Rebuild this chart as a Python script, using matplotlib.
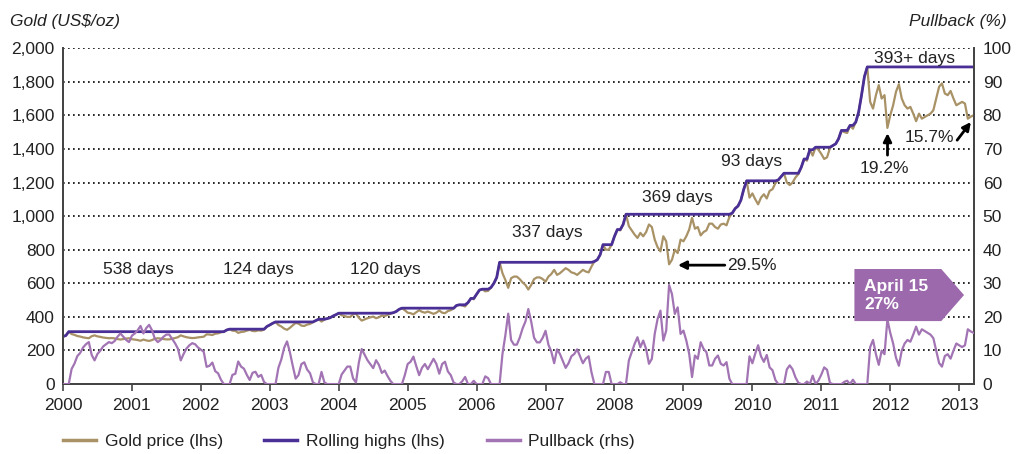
import matplotlib
matplotlib.use('Agg')
import matplotlib.pyplot as plt
from matplotlib.ticker import FuncFormatter
from matplotlib.lines import Line2D
import numpy as np

plt.rcParams['font.family'] = ['Liberation Sans', 'DejaVu Sans']

# gold price, US$/oz, two readings per month (1st and 2nd half), Jan 2000 - Mar 2013
gold_2000 = [283, 289, 312, 298, 293, 286, 283, 278, 275, 273, 285, 290,
             284, 281, 277, 275, 273, 274, 272, 268, 265, 268, 271, 273]
gold_2001 = [267, 265, 262, 258, 265, 260, 257, 262, 270, 273, 271, 268,
             266, 266, 270, 274, 279, 290, 284, 279, 276, 274, 275, 278]
gold_2002 = [280, 282, 296, 295, 292, 300, 302, 308, 312, 322, 327, 318,
             317, 305, 310, 312, 318, 323, 316, 315, 320, 318, 325, 343]
gold_2003 = [352, 362, 370, 352, 343, 330, 323, 335, 350, 364, 360, 348,
             346, 354, 358, 368, 378, 386, 372, 384, 390, 395, 405, 413]
gold_2004 = [422, 410, 405, 400, 400, 415, 420, 395, 378, 385, 392, 397,
             402, 392, 398, 408, 405, 412, 418, 425, 432, 445, 452, 440]
gold_2005 = [425, 422, 415, 428, 440, 430, 425, 432, 425, 418, 425, 438,
             425, 422, 435, 440, 450, 468, 472, 468, 462, 485, 510, 505]
gold_2006 = [535, 560, 565, 552, 555, 575, 600, 635, 725, 660, 620, 573,
             630, 640, 640, 625, 605, 590, 563, 590, 625, 635, 635, 625]
gold_2007 = [610, 640, 655, 680, 650, 660, 675, 690, 680, 665, 660, 650,
             665, 680, 670, 665, 700, 730, 740, 770, 830, 800, 800, 830]
gold_2008 = [880, 920, 915, 950, 1011, 940, 915, 890, 870, 900, 880, 905,
             950, 935, 860, 815, 790, 880, 850, 713, 740, 800, 780, 860]
gold_2009 = [850, 880, 920, 990, 925, 935, 885, 905, 915, 955, 955, 935,
             925, 950, 955, 945, 995, 1018, 1045, 1060, 1095, 1160, 1210, 1110]
gold_2010 = [1135, 1100, 1070, 1110, 1130, 1105, 1150, 1160, 1195, 1215, 1235, 1255,
             1200, 1185, 1200, 1230, 1250, 1290, 1340, 1330, 1395, 1360, 1410, 1395]
gold_2011 = [1370, 1340, 1350, 1405, 1420, 1430, 1460, 1510, 1500, 1495, 1540, 1520,
             1560, 1620, 1720, 1830, 1888, 1680, 1640, 1720, 1780, 1700, 1720, 1525]
gold_2012 = [1600, 1660, 1740, 1785, 1700, 1660, 1640, 1650, 1610, 1565, 1610, 1580,
             1590, 1600, 1610, 1630, 1700, 1770, 1790, 1730, 1720, 1745, 1700, 1660]
gold_2013 = [1670, 1680, 1670, 1580, 1592, 1600]

years = list(range(2000, 2014))
streak_labels = ['538 days', '124 days', '120 days', '337 days', '369 days', '93 days', '393+ days']
streak_x = [2001.09, 2002.84, 2004.68, 2007.03, 2008.91, 2009.99, 2012.35]
streak_y = [680, 680, 680, 900, 1113, 1327, 1940]

gold = np.array(gold_2000 + gold_2001 + gold_2002 + gold_2003 + gold_2004 + gold_2005 +
                gold_2006 + gold_2007 + gold_2008 + gold_2009 + gold_2010 + gold_2011 +
                gold_2012 + gold_2013, dtype=float)
t = 2000 + np.arange(len(gold)) / 24.0
highs = np.maximum.accumulate(gold)
pullback = (highs - gold) / highs * 100

c_gold = '#A89266'
c_high = '#4A2F96'
c_pull = '#A274B4'
c_box = '#9C6AAC'

fig = plt.figure(figsize=(10.19, 4.54), dpi=100)
ax = fig.add_axes([0.0618, 0.154, 0.8944, 0.740])
ax2 = ax.twinx()

ax.plot(t, gold, color=c_gold, lw=1.6, zorder=3)
ax.plot(t, highs, color=c_high, lw=2.0, zorder=4)
ax2.plot(t, pullback, color=c_pull, lw=1.6, zorder=3)

ax.set_xlim(2000, 2013.22)
ax.set_ylim(0, 2000)
ax2.set_ylim(0, 100)
ax.set_yticks(range(0, 2001, 200))
ax2.set_yticks(range(0, 101, 10))
ax.yaxis.set_major_formatter(FuncFormatter(lambda v, p: f'{v:,.0f}'))
ax.set_xticks(years)
ax.set_xticklabels([str(y) for y in years])

for y in range(200, 2001, 200):
    ax.axhline(y, color='black', lw=1.2, ls=(0, (1, 2)), zorder=1)

for a in (ax, ax2):
    a.spines['top'].set_visible(False)
    for s in ('left', 'right', 'bottom'):
        a.spines[s].set_color('#444444')
        a.spines[s].set_linewidth(1.3)
ax.tick_params(axis='y', length=0, pad=6, labelsize=12.5, colors='#222222')
ax2.tick_params(axis='y', length=0, pad=6, labelsize=12.5, colors='#222222')
ax.tick_params(axis='x', length=5, width=1.2, color='#444444', pad=5,
               labelsize=12.5, labelcolor='#222222')

fig.text(0.010, 0.952, 'Gold (US$/oz)', fontsize=12.5, style='italic',
         color='#222222', va='center', ha='left')
fig.text(0.988, 0.952, 'Pullback (%)', fontsize=12.5, style='italic',
         color='#222222', va='center', ha='right')

for lab, x, y in zip(streak_labels, streak_x, streak_y):
    ax.text(x, y, lab, ha='center', va='center', fontsize=12.5, color='#222222', zorder=6)

arrow = dict(arrowstyle='-|>', color='black', lw=2, mutation_scale=12, shrinkA=0, shrinkB=0)
ax.annotate('29.5%', xy=(2008.92, 708), xytext=(2009.64, 708), ha='left', va='center',
            fontsize=12.5, color='#222222', arrowprops=arrow, zorder=6)
ax.annotate('', xy=(2011.96, 1494), xytext=(2011.96, 1363), arrowprops=arrow, zorder=6)
ax.text(2011.91, 1286, '19.2%', ha='center', va='center', fontsize=12.5, color='#222222')
ax.annotate('', xy=(2013.17, 1560), xytext=(2012.97, 1452), arrowprops=arrow, zorder=6)
ax.text(2012.57, 1470, '15.7%', ha='center', va='center', fontsize=12.5, color='#222222')

box_x = [2011.48, 2012.74, 2013.07, 2012.74, 2011.48]
box_y = [685, 685, 530, 375, 375]
ax2.fill(box_x, box_y, color=c_box, transform=ax.transData, zorder=8, lw=0)
ax2.text(2011.62, 530, 'April 15\n27%', transform=ax.transData, ha='left', va='center',
         fontsize=12.5, fontweight='bold', color='white', linespacing=1.25, zorder=9)

handles = [Line2D([], [], color=c_gold, lw=2.5),
           Line2D([], [], color=c_high, lw=2.5),
           Line2D([], [], color=c_pull, lw=2.5)]
fig.legend(handles, ['Gold price (lhs)', 'Rolling highs (lhs)', 'Pullback (rhs)'],
           loc='center left', bbox_to_anchor=(0.055, 0.027), ncol=3, frameon=False,
           handlelength=1.9, handletextpad=0.5, columnspacing=2.4, borderaxespad=0,
           fontsize=12.5, labelcolor='#222222')

fig.savefig('out.png', dpi=100)
